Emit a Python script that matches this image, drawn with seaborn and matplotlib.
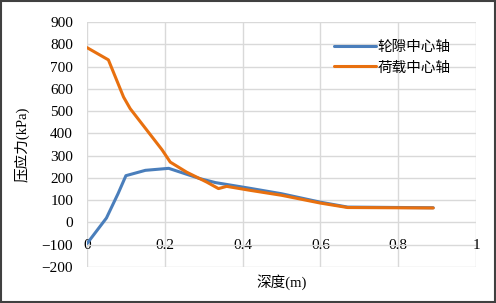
import matplotlib
matplotlib.use('Agg')
import matplotlib.pyplot as plt
import seaborn as sns
import pandas as pd
from matplotlib.patches import Rectangle

# data
gap_depth = [0.0, 0.05, 0.08, 0.1, 0.15, 0.21, 0.29, 0.33, 0.42, 0.5, 0.6, 0.67, 0.89]
gap_stress = [-95, 20, 130, 210, 234, 243, 197, 179, 153, 129, 91, 69, 66]
load_depth = [0.0, 0.055, 0.094, 0.111, 0.193, 0.214, 0.256, 0.308, 0.338, 0.359, 0.42, 0.5, 0.6, 0.67, 0.89]
load_stress = [785, 730, 563, 511, 326, 271, 226, 181, 152, 162, 144, 122, 87, 67, 65]
series_names = ['轮隙中心轴', '荷载中心轴']

df = pd.concat([
    pd.DataFrame({'depth': gap_depth, 'stress': gap_stress, 'series': series_names[0]}),
    pd.DataFrame({'depth': load_depth, 'stress': load_stress, 'series': series_names[1]}),
])

sns.set_style('white')
plt.rcParams['font.family'] = ['Liberation Serif', 'Noto Sans CJK SC']
plt.rcParams['text.color'] = 'black'
plt.rcParams['axes.labelcolor'] = 'black'

fig = plt.figure(figsize=(4.96, 3.03), dpi=100)
ax = fig.add_axes([87/496, 1 - 267/303, 389/496, 245/303])

sns.lineplot(data=df, x='depth', y='stress', hue='series', sort=False,
             palette=['#4A7EBB', '#E8700F'], linewidth=2.2, ax=ax)

ax.set_xlim(0, 1)
ax.set_ylim(-200, 900)
ax.set_xticks([0, 0.2, 0.4, 0.6, 0.8, 1])
ax.set_xticklabels(['0', '0.2', '0.4', '0.6', '0.8', '1'])
ax.set_yticks(range(-200, 901, 100))
ax.grid(True, color='#D9D9D9', linewidth=1)
ax.set_axisbelow(True)
for s in ax.spines.values():
    s.set_visible(False)
ax.spines['bottom'].set_position(('data', 0))
ax.tick_params(axis='both', length=0, labelsize=11, labelcolor='black')
ax.tick_params(axis='x', pad=12)
ax.tick_params(axis='y', pad=10)

ax.set_xlabel('深度(m)', fontsize=10.5)
ax.xaxis.set_label_coords(0.5, -0.03)
ax.set_ylabel('压应力(kPa)', fontsize=10.5)
ax.yaxis.set_label_coords(-0.147, 0.5)

leg = ax.legend(loc='upper left', bbox_to_anchor=(0.6, 0.98), frameon=False,
                handlelength=2.9, handletextpad=0.1, labelspacing=0.45,
                prop={'family': ['Noto Sans CJK SC'], 'size': 10.5})

fig.patches.append(Rectangle((0.002, 0.003), 0.995, 0.993, transform=fig.transFigure,
                             fill=False, edgecolor='#404040', linewidth=1.5))

fig.savefig('out.png', dpi=100)
